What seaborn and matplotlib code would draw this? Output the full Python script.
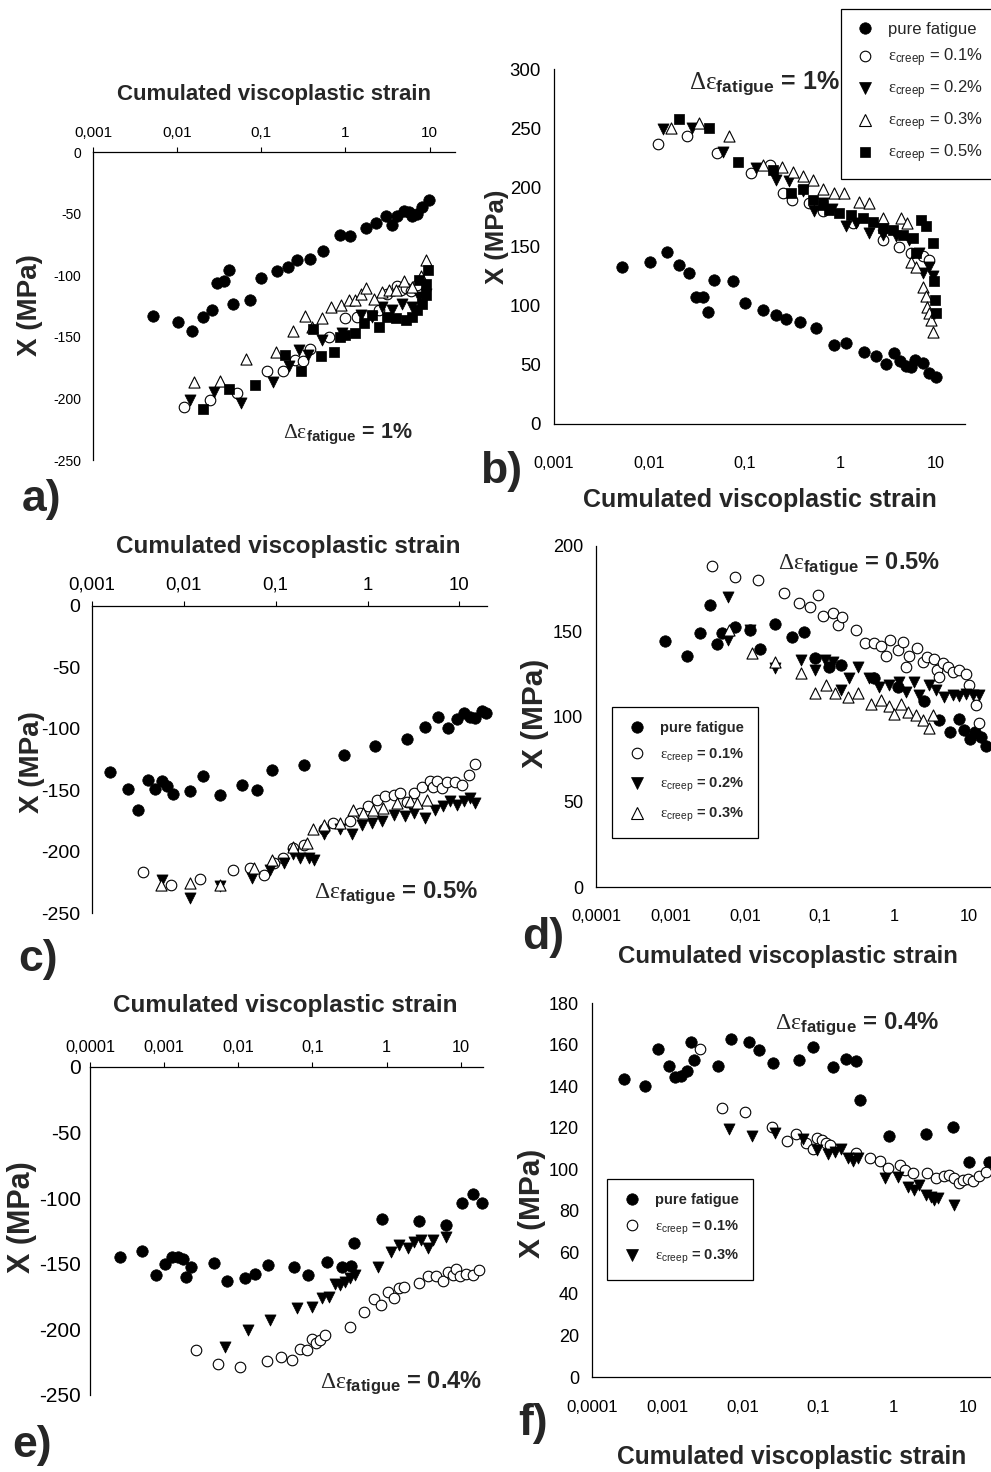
import numpy as np
import matplotlib
matplotlib.use('Agg')
import matplotlib.pyplot as plt
import seaborn as sns
from matplotlib.ticker import FixedLocator, FixedFormatter, NullLocator
from matplotlib.lines import Line2D

# ---------------- data ----------------
# panel a : delta eps fatigue = 1 %, X negative
A_PF_X = [0.0051, 0.0102, 0.015, 0.0205, 0.026, 0.030, 0.0357, 0.041, 0.0457, 0.0734, 0.099, 0.152, 0.207, 0.265, 0.378, 0.543, 0.857, 1.135, 1.74, 2.33, 3.0, 3.54, 4.14, 4.96, 5.69, 6.23, 7.14, 8.19, 9.8]
A_PF_Y = [-133, -138, -145, -134, -128, -106, -105, -96, -123, -120, -102, -96.5, -93, -88, -86.5, -80, -67, -68, -62, -58, -51.6, -59.5, -52, -48, -48.6, -52, -50.5, -45, -39]
A_C01_X = [0.0119, 0.0246, 0.051, 0.116, 0.179, 0.248, 0.309, 0.378, 0.64, 0.99, 1.36, 2.5, 3.15, 4.14, 4.6, 5.3, 6.0, 7.0]
A_C01_Y = [-207, -201, -196, -178, -178, -169, -170, -159.5, -150, -135, -134, -128, -115, -109, -112, -110, -113, -108]
A_C02_X = [0.0143, 0.0277, 0.0574, 0.136, 0.211, 0.282, 0.355, 0.533, 0.92, 1.52, 2.09, 2.75, 3.61, 4.74, 6.2, 7.5, 8.97]
A_C02_Y = [-201, -195, -203.5, -186.5, -174, -161, -165, -152.7, -147, -132, -134, -126, -128, -123, -126, -117.6, -115]
A_C03_X = [0.016, 0.0327, 0.0658, 0.149, 0.235, 0.33, 0.4, 0.533, 0.67, 0.88, 1.09, 1.3, 1.52, 1.74, 2.19, 2.75, 3.3, 3.95, 4.96, 6.2, 7.8, 8.97]
A_C03_Y = [-187, -185.7, -168, -162.7, -145, -133, -142, -135, -126, -124, -120, -120, -115, -110, -119, -113.5, -112, -112, -105, -109.5, -101, -88]
A_C05_X = [0.0205, 0.041, 0.085, 0.193, 0.3, 0.414, 0.51, 0.73, 0.86, 1.0, 1.3, 1.66, 2.09, 2.5, 3.15, 3.95, 5.19, 6.2, 7.14, 8.2, 9.0, 7.5, 9.6, 8.97]
A_C05_Y = [-209, -192.7, -189, -165, -178, -144, -165.7, -162, -150, -148.6, -147, -139, -132, -142, -134, -135, -136.5, -134, -128, -123, -116, -104, -96, -107]

# panel b : delta eps fatigue = 1 %, X positive
B_PF_X = [0.0051, 0.0102, 0.0153, 0.0203, 0.0258, 0.0303, 0.036, 0.0407, 0.0467, 0.0743, 0.1, 0.155, 0.211, 0.268, 0.376, 0.552, 0.859, 1.14, 1.77, 2.34, 2.98, 3.64, 4.17, 4.82, 5.43, 6.03, 7.2, 8.3, 9.9]
B_PF_Y = [133, 137, 145, 134, 127.5, 107, 107, 95, 122, 121, 102, 96.5, 92, 88.6, 86, 81, 67, 68.4, 61, 57.7, 51, 60, 53, 48.7, 47.8, 53.8, 51.5, 43, 39.7]
B_C01_X = [0.0122, 0.0245, 0.0506, 0.116, 0.18, 0.248, 0.31, 0.47, 0.65, 1.33, 2.75, 4.1, 5.43, 7.2, 8.45]
B_C01_Y = [236.7, 243.5, 228.8, 212.5, 219, 195, 189, 186.6, 179.6, 170, 155.6, 150, 144.4, 141.6, 138.8]
B_C02_X = [0.0138, 0.0279, 0.0585, 0.13, 0.211, 0.29, 0.40, 0.53, 0.65, 0.82, 1.14, 1.45, 2.0, 2.75, 3.79, 5.22, 6.64, 7.2, 8.45, 9.2]
B_C02_Y = [249, 250, 230, 216, 206, 205, 196.5, 180, 186.6, 182, 167, 169.7, 161, 160, 158.5, 155.6, 144.4, 127.5, 133, 124.7]
B_C03_X = [0.0168, 0.0333, 0.0675, 0.153, 0.244, 0.32, 0.407, 0.51, 0.65, 0.86, 1.09, 1.57, 2.0, 2.75, 4.28, 5.0, 5.43, 6.1, 7.2, 7.8, 8.1, 8.45, 8.8, 9.2]
B_C03_Y = [250.5, 254.7, 243, 219, 217.6, 213, 209.7, 206.3, 199, 195, 195.6, 188, 186.6, 174, 174, 170, 137, 133, 116, 108, 99, 94, 88, 78]
B_C05_X = [0.0203, 0.0414, 0.0838, 0.195, 0.303, 0.40, 0.51, 0.65, 0.76, 0.97, 1.28, 1.7, 2.16, 2.75, 3.49, 4.44, 5.66, 6.9, 7.8, 9.2, 6.1, 9.5, 9.8, 9.9]
B_C05_Y = [258, 250, 221, 214.7, 195.6, 198.4, 189, 185, 181, 178, 176.7, 174, 171, 165.5, 164, 160, 157, 172.5, 167, 152.8, 144.4, 120.5, 105, 93.7]

# panel c : delta eps fatigue = 0.5 %, X negative
C_PF_X = [0.00158, 0.00247, 0.0032, 0.0041, 0.0048, 0.00578, 0.00655, 0.0076, 0.0117, 0.016, 0.0245, 0.0428, 0.0624, 0.091, 0.201, 0.557, 1.21, 2.68, 4.24, 5.82, 7.48, 9.38, 11.1, 13.1, 14.8, 17.5, 19.5]
C_PF_Y = [-135.5, -148.8, -165.9, -141.5, -148.8, -142.8, -146.3, -153, -151, -138.8, -153.7, -145.5, -149.6, -133.9, -129.3, -121.7, -114.4, -108.4, -98.6, -90.5, -99.2, -91.9, -87.3, -90.5, -91.3, -85.4, -87.3]
C_C01_X = [0.0036, 0.0072, 0.0149, 0.0342, 0.0528, 0.0738, 0.0948, 0.12, 0.156, 0.201, 0.332, 0.426, 0.647, 0.83, 1.02, 1.26, 1.56, 1.92, 2.27, 2.68, 3.17, 3.9, 4.8, 5.2, 5.68, 6.43, 7.3, 8.98, 10.6, 12.6, 14.8]
C_C01_Y = [-216.8, -227, -222, -215, -213, -218.7, -209, -205, -197, -195, -182, -176.7, -175, -168.6, -163, -157.7, -155, -153.7, -152.3, -160, -152, -147, -142.8, -147, -142.8, -148, -143.6, -143.4, -145.5, -138, -128.7]
C_C02_X = [0.00578, 0.0117, 0.0245, 0.055, 0.087, 0.122, 0.156, 0.185, 0.228, 0.263, 0.332, 0.504, 0.675, 0.867, 1.11, 1.43, 1.92, 2.57, 3.17, 4.24, 5.45, 6.7, 7.94, 9.38, 11.1, 13.1, 14.8]
C_C02_Y = [-223, -237.7, -228, -221.4, -215, -209, -202, -205, -205, -206.5, -185.4, -182, -186, -178, -176.7, -175, -170, -170.7, -168.6, -172.6, -165.9, -163, -159, -161.8, -159, -156.4, -160.4]
C_C03_X = [0.00564, 0.0117, 0.0245, 0.0574, 0.091, 0.156, 0.219, 0.258, 0.332, 0.504, 0.703, 0.9, 1.16, 1.49, 2.08, 2.91, 3.44, 4.42]
C_C03_Y = [-226.8, -225.5, -226.8, -213.3, -206.5, -196, -193, -182, -178, -176.7, -165.9, -168.6, -165.9, -164.5, -160.4, -159, -160.4, -157.7]

# panel d : delta eps fatigue = 0.5 %, X positive
D_PF_X = [0.00084, 0.00169, 0.00252, 0.00337, 0.00427, 0.00492, 0.00743, 0.0118, 0.016, 0.025, 0.043, 0.061, 0.0875, 0.136, 0.195, 0.546, 1.12, 2.55, 4.05, 5.62, 7.35, 8.75, 10.4, 12.3, 14.6, 17.1]
D_PF_Y = [144.2, 135.6, 148.7, 165.4, 142.3, 148.7, 152.6, 150.7, 139.3, 154, 146.8, 149.7, 134.4, 129.2, 130, 122.3, 117.4, 109, 98.2, 91, 98.8, 92, 87, 91, 88, 82.6]
D_C01_X = [0.00361, 0.00727, 0.0149, 0.0333, 0.0523, 0.0735, 0.095, 0.111, 0.151, 0.176, 0.201, 0.31, 0.409, 0.546, 0.67, 0.78, 0.88, 1.12, 1.31, 1.45, 1.6, 2.01, 2.42, 2.74, 3.47, 3.77, 4.05, 4.49, 5.24, 6.1, 7.5, 9.2, 10.2, 12.5, 13.6]
D_C01_Y = [188.3, 182, 180, 172.6, 166.7, 164.4, 171.2, 158.9, 160.9, 153.6, 158.1, 150.7, 143.2, 142.9, 141.3, 135.4, 144.8, 139, 143.8, 129.2, 135.4, 139.9, 132.1, 135, 134, 127.2, 123.3, 131.5, 129.2, 126.2, 127.2, 124.9, 118.4, 106.7, 95.9]
D_C02_X = [0.0059, 0.006, 0.0116, 0.025, 0.0568, 0.0875, 0.117, 0.151, 0.195, 0.252, 0.326, 0.468, 0.637, 0.865, 1.18, 1.45, 1.87, 2.18, 2.97, 3.66, 4.72, 6.1, 7.5, 9.2, 11.3, 13.9]
D_C02_Y = [170.3, 144.8, 150.7, 128.2, 133.1, 127.2, 133.1, 132, 115.5, 122.3, 129.2, 122.3, 117.4, 118.4, 120.4, 114.5, 120.4, 112.5, 118.4, 115.5, 111.5, 112.5, 111.9, 113.1, 112.5, 112.5]
D_C03_X = [0.0061, 0.0124, 0.025, 0.0568, 0.0857, 0.123, 0.159, 0.239, 0.326, 0.492, 0.67, 0.865, 1.01, 1.24, 1.52, 1.97, 2.42, 2.97, 3.3]
D_C03_Y = [150.7, 137, 132.1, 125.6, 113.5, 118.4, 113.5, 111.5, 113.5, 107.2, 109.6, 106.1, 101.4, 107.6, 102.7, 100.8, 97.8, 93, 100.8]

# panel e : delta eps fatigue = 0.4 %, X negative
E_PF_X = [0.000254, 0.000507, 0.000766, 0.00102, 0.00126, 0.00152, 0.0018, 0.002, 0.00227, 0.00468, 0.00707, 0.0122, 0.017, 0.0252, 0.0558, 0.087, 0.158, 0.247, 0.327, 0.362, 0.863, 2.77, 6.34, 10.3, 14.8, 19.5]
E_PF_Y = [-144.7, -140.4, -158.6, -150.3, -144.7, -144.7, -146, -160.4, -152.3, -149.2, -163, -161.2, -157.4, -151, -152.3, -158.6, -148.5, -152.8, -151.8, -134, -116.2, -117.3, -120.6, -103.6, -97, -103.6]
E_C01_X = [0.00267, 0.00534, 0.0105, 0.0244, 0.0381, 0.053, 0.0672, 0.0844, 0.0986, 0.113, 0.128, 0.149, 0.317, 0.494, 0.667, 0.846, 1.04, 1.28, 1.46, 1.74, 2.77, 3.59, 4.66, 5.72, 6.69, 7.8, 8.65, 9.8, 11.8, 14.5, 17.8]
E_C01_Y = [-215.7, -226.4, -228.4, -223.9, -220.8, -223.4, -215.2, -215.7, -207.6, -210.7, -208.1, -204.3, -198.5, -186.5, -177.2, -181.5, -171.3, -176.4, -168.8, -167.5, -164.5, -159.4, -159.4, -162.9, -156.1, -158.6, -153.6, -159.4, -157.9, -158.6, -154.8]
E_C03_X = [0.00657, 0.0136, 0.0271, 0.0626, 0.0986, 0.136, 0.167, 0.199, 0.232, 0.271, 0.317, 0.37, 0.762, 1.15, 1.49, 1.93, 2.37, 2.92, 3.59, 4.2, 6.34]
E_C03_Y = [-213.7, -200.5, -192.9, -184, -183.2, -176.4, -175.6, -165.5, -166.2, -163.7, -161.2, -158.6, -152.8, -140.9, -135.8, -138.3, -133.2, -132, -138.3, -131.5, -129.4]

# panel f : delta eps fatigue = 0.4 %, X positive
F_PF_X = [0.000263, 0.000509, 0.000764, 0.00106, 0.00127, 0.00151, 0.00181, 0.00205, 0.00227, 0.00477, 0.0071, 0.0122, 0.0167, 0.0255, 0.0565, 0.0865, 0.159, 0.239, 0.325, 0.36, 0.879, 2.75, 6.33, 10.3, 18.6]
F_PF_Y = [143.4, 140.1, 157.8, 149.5, 144.3, 145.1, 147.1, 161, 152.4, 149.5, 162.6, 161, 157.2, 151.1, 152.7, 158.8, 149, 153, 152.2, 133.4, 116.2, 117, 120.5, 103.3, 103.7]
F_C01_X = [0.00273, 0.00533, 0.0108, 0.0248, 0.0384, 0.051, 0.0707, 0.0865, 0.099, 0.112, 0.127, 0.147, 0.318, 0.498, 0.676, 0.853, 1.22, 1.42, 1.83, 2.8, 3.73, 4.81, 5.6, 6.53, 7.45, 8.41, 9.8, 11.4, 14.0, 17.1]
F_C01_Y = [157.8, 129.4, 127.3, 120.2, 113.8, 117, 112.5, 109.6, 114.9, 114.1, 112.8, 111.7, 108, 105.3, 104.1, 100.8, 102, 99.6, 98, 98, 95.6, 96.8, 97.2, 95.6, 93.5, 94.8, 95.1, 94.5, 96.8, 98.8]
F_C03_X = [0.00667, 0.0135, 0.0274, 0.0638, 0.099, 0.137, 0.168, 0.206, 0.252, 0.293, 0.341, 0.771, 1.16, 1.57, 1.92, 2.24, 2.75, 3.2, 3.54, 3.93, 6.53]
F_C03_Y = [119.3, 116, 117.3, 114.4, 109.3, 107.4, 108.5, 109.6, 105.3, 104.1, 105.3, 95.6, 96.4, 91.6, 90, 92.4, 87.6, 86.8, 85.2, 86, 82.8]

SERIES_LABELS = {
    'pf': 'pure fatigue',
    'c01': r'$\mathrm{\varepsilon}_{\mathsf{creep}}$ = 0.1%',
    'c02': r'$\mathrm{\varepsilon}_{\mathsf{creep}}$ = 0.2%',
    'c03': r'$\mathrm{\varepsilon}_{\mathsf{creep}}$ = 0.3%',
    'c05': r'$\mathrm{\varepsilon}_{\mathsf{creep}}$ = 0.5%',
}
XTICK_LABELS = {-4: '0,0001', -3: '0,001', -2: '0,01', -1: '0,1', 0: '1', 1: '10'}
TITLE = 'Cumulated viscoplastic strain'
YLABEL = 'X (MPa)'

# ---------------- style ----------------
sns.set_style('white')
plt.rcParams['font.family'] = ['Liberation Sans', 'DejaVu Sans']
plt.rcParams['axes.unicode_minus'] = False
plt.rcParams['mathtext.fontset'] = 'custom'
plt.rcParams['mathtext.rm'] = 'Liberation Serif'
plt.rcParams['mathtext.it'] = 'Liberation Serif:italic'
plt.rcParams['mathtext.bf'] = 'Liberation Sans:bold'
plt.rcParams['mathtext.sf'] = 'Liberation Sans'

MK = {
    'pf': dict(marker='o', color='black', edgecolor='black', s=68, linewidth=0.5),
    'c01': dict(marker='o', color='white', edgecolor='black', s=58, linewidth=0.8),
    'c02': dict(marker='v', color='black', edgecolor='black', s=64, linewidth=0.5),
    'c03': dict(marker='^', color='white', edgecolor='black', s=64, linewidth=0.8),
    'c05': dict(marker='s', color='black', edgecolor='black', s=52, linewidth=0.5),
}

W, H = 991, 1472
fig = plt.figure(figsize=(W / 100, H / 100), dpi=100)


def px_axes(l, t, r, b):
    return fig.add_axes([l / W, 1 - b / H, (r - l) / W, (b - t) / H])


def ftext(x, y, s, **kw):
    return fig.text(x / W, 1 - y / H, s, **kw)


def setup(ax, top, xmin, ylim, ystep, xfs, yfs, xpad, ypad):
    ax.set_xscale('log')
    ax.set_xlim(xmin, 20)
    ax.set_ylim(*ylim)
    exps = list(range(int(round(np.log10(xmin))), 2))
    ax.xaxis.set_major_locator(FixedLocator([10.0 ** e for e in exps]))
    ax.xaxis.set_major_formatter(FixedFormatter([XTICK_LABELS[e] for e in exps]))
    ax.xaxis.set_minor_locator(NullLocator())
    ax.yaxis.set_major_locator(FixedLocator(np.arange(ylim[0], ylim[1] + 1, ystep)))
    ax.set_xlabel('')
    ax.set_ylabel('')
    ax.grid(False)
    for sp in ax.spines.values():
        sp.set_color('black')
        sp.set_linewidth(0.9)
    ax.spines['right'].set_visible(False)
    if top:
        ax.xaxis.tick_top()
        ax.spines['bottom'].set_visible(False)
    else:
        ax.spines['top'].set_visible(False)
    ax.tick_params(axis='both', which='major', direction='out', length=3.8,
                   width=0.8, color='black', labelcolor='black')
    ax.tick_params(axis='x', labelsize=xfs, pad=xpad)
    ax.tick_params(axis='y', labelsize=yfs, pad=ypad)
    ax.patch.set_alpha(0)


def scatter(ax, xs, ys, key):
    sns.scatterplot(x=xs, y=ys, ax=ax, legend=False, clip_on=False, zorder=3, **MK[key])


def legend(ax, keys, labels, left, top, fs, weight, lsp, hlen, htp, bpad):
    handles = []
    for k in keys:
        m = MK[k]
        handles.append(Line2D([], [], linestyle='none', marker=m['marker'],
                              markerfacecolor=m['color'], markeredgecolor='black',
                              markeredgewidth=m['linewidth'], markersize=np.sqrt(m['s'])))
    leg = ax.legend(handles, labels, loc='upper left',
                    bbox_to_anchor=(left / W, 1 - top / H), bbox_transform=fig.transFigure,
                    frameon=True, fancybox=False, shadow=False, framealpha=1,
                    edgecolor='black', borderpad=bpad, labelspacing=lsp,
                    handlelength=hlen, handletextpad=htp, borderaxespad=0,
                    prop={'size': fs, 'weight': weight})
    leg.get_frame().set_linewidth(0.9)


def delta(x, y, pct, fs):
    ftext(x, y, r'$\mathrm{\Delta\varepsilon}_{\mathbf{fatigue}}$' + ' = ' + pct,
          fontsize=fs, fontweight='bold', ha='left', va='baseline')


# ---------------- panel a ----------------
ax_a = px_axes(93, 152, 455, 460)
scatter(ax_a, A_PF_X, A_PF_Y, 'pf')
scatter(ax_a, A_C01_X, A_C01_Y, 'c01')
scatter(ax_a, A_C02_X, A_C02_Y, 'c02')
scatter(ax_a, A_C03_X, A_C03_Y, 'c03')
scatter(ax_a, A_C05_X, A_C05_Y, 'c05')
setup(ax_a, True, 1e-3, (-250, 0), 50, 11, 10, 5, 4.5)

# ---------------- panel b ----------------
ax_b = px_axes(554, 69, 965, 424)
scatter(ax_b, B_PF_X, B_PF_Y, 'pf')
scatter(ax_b, B_C01_X, B_C01_Y, 'c01')
scatter(ax_b, B_C02_X, B_C02_Y, 'c02')
scatter(ax_b, B_C03_X, B_C03_Y, 'c03')
scatter(ax_b, B_C05_X, B_C05_Y, 'c05')
setup(ax_b, False, 1e-3, (0, 300), 50, 11.7, 13.4, 19, 5.5)
keys_b = ['pf', 'c01', 'c02', 'c03', 'c05']
legend(ax_b, keys_b, [SERIES_LABELS[k] for k in keys_b], 841, 9, 12, 'normal',
       0.58, 1.3, 0.75, 0.8)

# ---------------- panel c ----------------
ax_c = px_axes(92, 606, 487, 913)
scatter(ax_c, C_PF_X, C_PF_Y, 'pf')
scatter(ax_c, C_C01_X, C_C01_Y, 'c01')
scatter(ax_c, C_C02_X, C_C02_Y, 'c02')
scatter(ax_c, C_C03_X, C_C03_Y, 'c03')
setup(ax_c, True, 1e-3, (-250, 0), 50, 13.4, 14, 5, 4.5)

# ---------------- panel d ----------------
ax_d = px_axes(596, 546, 991, 887)
scatter(ax_d, D_PF_X, D_PF_Y, 'pf')
scatter(ax_d, D_C01_X, D_C01_Y, 'c01')
scatter(ax_d, D_C02_X, D_C02_Y, 'c02')
scatter(ax_d, D_C03_X, D_C03_Y, 'c03')
setup(ax_d, False, 1e-4, (0, 200), 50, 11.8, 13, 12, 5.5)
keys_d = ['pf', 'c01', 'c02', 'c03']
legend(ax_d, keys_d, [SERIES_LABELS[k] for k in keys_d], 612, 707, 10.5, 'bold',
       0.8, 1.5, 0.85, 0.95)

# ---------------- panel e ----------------
ax_e = px_axes(90, 1067, 483, 1395)
scatter(ax_e, E_PF_X, E_PF_Y, 'pf')
scatter(ax_e, E_C01_X, E_C01_Y, 'c01')
scatter(ax_e, E_C03_X, E_C03_Y, 'c02')
setup(ax_e, True, 1e-4, (-250, 0), 50, 11.8, 15, 5, 2.5)

# ---------------- panel f ----------------
ax_f = px_axes(592, 1003, 991, 1377)
scatter(ax_f, F_PF_X, F_PF_Y, 'pf')
scatter(ax_f, F_C01_X, F_C01_Y, 'c01')
scatter(ax_f, F_C03_X, F_C03_Y, 'c02')
# in panel f the filled down-triangles are the 0.3 % creep series
legend(ax_f, ['pf', 'c01', 'c02'],
       [SERIES_LABELS['pf'], SERIES_LABELS['c01'], SERIES_LABELS['c03']],
       607, 1179, 10.5, 'bold', 0.8, 1.5, 0.85, 0.95)
setup(ax_f, False, 1e-4, (0, 180), 20, 12.2, 13, 13, 5.5)

# ---------------- texts ----------------
ftext(274, 100, TITLE, fontsize=16, fontweight='bold', ha='center', va='baseline')
ftext(760, 507, TITLE, fontsize=18, fontweight='bold', ha='center', va='baseline')
ftext(288, 553, TITLE, fontsize=17.5, fontweight='bold', ha='center', va='baseline')
ftext(788, 963, TITLE, fontsize=17.3, fontweight='bold', ha='center', va='baseline')
ftext(285, 1012, TITLE, fontsize=17.5, fontweight='bold', ha='center', va='baseline')
ftext(792, 1464, TITLE, fontsize=17.7, fontweight='bold', ha='center', va='baseline')

for (x, y, fs) in [(30, 305, 20), (497, 237, 18.5), (32, 762, 20),
                   (535, 713, 21.5), (22, 1217, 22), (532, 1203, 21.5)]:
    ftext(x, y, YLABEL, rotation=90, fontsize=fs, fontweight='bold', ha='center', va='center')

for (x, y, s) in [(42, 500, 'a)'), (501, 471, 'b)'), (38, 960, 'c)'),
                  (543, 937, 'd)'), (32, 1446, 'e)'), (533, 1424, 'f)')]:
    ftext(x, y, s, fontsize=32, fontweight='bold', ha='center', va='center')

delta(283, 438, '1%', 15.5)
delta(689, 89, '1%', 18)
delta(314, 898, '0.5%', 17.2)
delta(778, 569, '0.5%', 17)
delta(320, 1388, '0.4%', 17)
delta(775, 1029, '0.4%', 17.2)

fig.savefig('out.png', dpi=100)
